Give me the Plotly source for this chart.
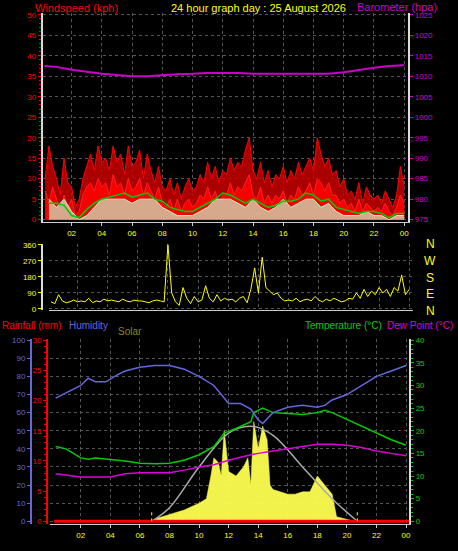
import numpy as np
import plotly.graph_objects as go

# quarter-hour and half-hour time bases (hours after midnight)
t_q = np.arange(1, 97) * 0.25
t_h = np.arange(1, 49) * 0.5

wind_gust = [10, 18, 13, 10, 6, 15, 9, 8, 3, 5, 10, 13, 16, 12, 18, 14,
             15, 12, 18, 14, 16, 11, 18, 13, 14, 17, 10, 16, 12, 9, 13, 8,
             7, 10, 6, 9, 5, 8, 10, 7, 8, 11, 9, 14, 10, 13, 9, 12,
             11, 15, 12, 14, 13, 17, 20, 12, 10, 14, 9, 12, 8, 11, 10, 13,
             9, 12, 10, 14, 11, 13, 15, 12, 20, 16, 13, 15, 11, 12, 8, 10,
             6, 7, 5, 9, 4, 8, 6, 5, 6, 4, 7, 5, 3, 6, 13, 8]
wind_low = [7, 4, 8, 5, 2, 6, 3, 5, 1, 2, 6, 8, 9, 7, 10, 8,
            9, 6, 11, 8, 9, 6, 10, 7, 8, 10, 6, 9, 7, 5, 8, 4,
            3, 5, 2, 5, 2, 4, 5, 3, 4, 6, 5, 8, 5, 7, 4, 6,
            6, 9, 6, 8, 7, 9, 11, 6, 5, 8, 4, 6, 4, 6, 5, 7,
            4, 6, 5, 8, 6, 7, 9, 6, 10, 9, 7, 9, 6, 6, 4, 5,
            3, 4, 2, 5, 2, 4, 3, 2, 3, 2, 4, 2, 1, 3, 6, 4]
wind_speed = [5, 3, 5, 2, 0, 1, 3, 5, 5, 5, 5, 4, 5, 5, 5, 3, 2, 1, 1, 1, 2, 3, 5, 5,
              5, 4, 3, 5, 3, 2, 3, 5, 3, 4, 5, 5, 3, 4, 2, 1, 1, 1, 2, 1, 1, 0, 1, 1]
wind_avg = [4, 4, 3.5, 1, 0.5, 2.5, 4, 5, 5.5, 6, 6.5, 5.5, 6, 6.5, 5, 4.5, 3, 2.5, 2, 2, 3, 4, 5, 6.5,
            6, 5, 4, 5, 4, 3, 3.5, 4.5, 4.5, 5, 6.5, 6, 4.5, 5, 3, 2.5, 2, 1.5, 2, 2, 1.5, 0.5, 1.5, 1.5]

baro_t = [0.2, 1, 2, 3, 4, 5, 6, 7, 8, 9, 10, 11, 12, 13, 14, 15, 16, 17, 18, 19, 20, 21, 22, 23, 24]
baro = [1012.5, 1012.3, 1011.6, 1011.1, 1010.6, 1010.3, 1010.0, 1010.0, 1010.3, 1010.5, 1010.6, 1010.8,
        1010.8, 1010.8, 1010.6, 1010.6, 1010.5, 1010.5, 1010.5, 1010.6, 1011.0, 1011.6, 1012.1, 1012.5, 1012.7]

wind_dir = [40, 30, 80, 45, 35, 40, 50, 40, 45, 40, 60, 35, 45, 40, 55, 45,
            50, 45, 40, 55, 45, 40, 50, 45, 45, 40, 35, 45, 50, 45, 40, 360,
            90, 40, 20, 120, 60, 30, 70, 40, 50, 130, 60, 40, 80, 45, 60, 50,
            55, 40, 60, 70, 35, 110, 230, 90, 290, 120, 100, 80, 90, 60, 45, 50,
            45, 60, 40, 50, 55, 45, 70, 50, 40, 55, 45, 60, 50, 40, 45, 60,
            55, 90, 60, 110, 70, 100, 80, 120, 90, 110, 70, 120, 100, 190, 80, 110]

hum_t = [0.3, 1, 2, 2.5, 3, 3.7, 4.5, 5, 6, 7, 8, 9, 10, 11, 12, 12.8, 13.5, 14, 14.3, 15,
         16, 17, 18, 18.5, 19, 20, 21, 22, 23, 24]
humidity = [68, 71, 75, 79, 77, 77, 81, 83, 85, 86, 86, 84, 80, 75, 65, 65, 62, 56, 54, 60,
            63, 64, 63, 64, 67, 70, 75, 80, 83, 86]

temp_t = [0.3, 1, 2, 2.5, 3, 4, 5, 6, 7, 8, 9, 10, 11, 11.7, 12.5, 13.5, 13.7, 14.3, 15, 16,
          17, 18, 18.5, 19, 20, 21, 22, 23, 24]
temperature = [16.5, 16, 14, 13.7, 14, 13.7, 13.3, 12.8, 12.7, 12.8, 13.5, 14.7, 16.5, 19.5, 20.5,
               22, 24, 25, 24, 23.8, 23.6, 24, 24.5, 24, 22.5, 21, 19.5, 18, 16.8]

dew_t = [0.3, 2, 3, 4, 5, 6, 7, 8, 9, 10, 11, 12, 13, 14, 15, 16, 17, 18, 19, 20, 21, 22, 23, 24]
dew_point = [10.5, 9.8, 9.8, 9.8, 10.5, 10.7, 10.7, 10.7, 11.3, 12, 12.5, 13.5, 14.3, 15, 15.5,
             16, 16.5, 17, 17, 16.8, 16.3, 15.5, 15, 14.5]

solar_t = [6.8, 7, 8, 9, 10, 10.5, 10.8, 11, 11.3, 11.5, 11.7, 12, 12.5, 13, 13.3, 13.5, 13.7,
           14, 14.3, 14.6, 14.8, 15, 16, 16.5, 17, 17.5, 18, 18.5, 19, 19.3, 20, 20.5]
solar = [0, 0.5, 1.5, 2.5, 4, 5, 10, 14, 13, 10, 20, 11, 10, 12, 14, 8, 22, 16, 21, 18, 8, 7,
         6, 6, 6.5, 6.5, 10, 8, 6, 1, 0.5, 0]
solar_max_t = [6.8, 8, 10, 12, 13.5, 15, 17, 19, 20.7]
solar_max = [0, 3, 12, 19.5, 21, 19, 12, 5, 0]

rain_t = [0.2, 24.2]
rainfall = [0, 0]

hour_ticks = list(range(2, 25, 2))
hour_labels = ["02", "04", "06", "08", "10", "12", "14", "16", "18", "20", "22", "00"]

F = "Liberation Sans"
GRID = "#555555"

fig = go.Figure()

# top panel: wind + barometer
fig.add_trace(go.Scatter(x=t_q, y=wind_gust, mode="lines", line=dict(color="#ff0000", width=1),
                         fill="tozeroy", fillcolor="rgba(200,0,0,0.85)", xaxis="x", yaxis="y"))
fig.add_trace(go.Scatter(x=t_q, y=wind_low, mode="lines", line=dict(color="#ff2020", width=1),
                         fill="tozeroy", fillcolor="rgba(255,0,0,0.9)", xaxis="x", yaxis="y"))
fig.add_trace(go.Scatter(x=t_h, y=wind_speed, mode="lines", line=dict(color="#c8f0c8", width=1),
                         fill="tozeroy", fillcolor="rgba(200,240,200,0.7)", xaxis="x", yaxis="y"))
fig.add_trace(go.Scatter(x=t_h, y=wind_avg, mode="lines", line=dict(color="#00cc00", width=1.5),
                         xaxis="x", yaxis="y"))
fig.add_trace(go.Scatter(x=baro_t, y=baro, mode="lines", line=dict(color="#cc00cc", width=2),
                         xaxis="x", yaxis="y2"))

# middle panel: wind direction
fig.add_trace(go.Scatter(x=t_q, y=wind_dir, mode="lines", line=dict(color="#ffff00", width=1),
                         xaxis="x2", yaxis="y3"))

# bottom panel
fig.add_trace(go.Scatter(x=solar_t, y=solar, mode="lines", line=dict(color="#ffff40", width=0.5),
                         fill="tozeroy", fillcolor="rgba(255,255,80,0.95)", xaxis="x3", yaxis="y4"))
fig.add_trace(go.Scatter(x=solar_max_t, y=solar_max, mode="lines", line=dict(color="#aaaaaa", width=1.5, shape="spline"),
                         xaxis="x3", yaxis="y4"))
fig.add_trace(go.Scatter(x=temp_t, y=temperature, mode="lines", line=dict(color="#00cc00", width=1.5),
                         xaxis="x3", yaxis="y4"))
fig.add_trace(go.Scatter(x=dew_t, y=dew_point, mode="lines", line=dict(color="#dd00dd", width=1.5),
                         xaxis="x3", yaxis="y4"))
fig.add_trace(go.Scatter(x=hum_t, y=humidity, mode="lines", line=dict(color="#6666dd", width=1.5),
                         xaxis="x3", yaxis="y6"))
fig.add_trace(go.Scatter(x=rain_t, y=rainfall, mode="lines", line=dict(color="#ff0000", width=3),
                         xaxis="x3", yaxis="y5"))

# sunrise / sunset markers
for sx in [6.8, 20.7]:
    fig.add_shape(type="line", x0=sx, x1=sx, y0=0, y1=2, xref="x3", yref="y4",
                  line=dict(color="#ffff00", width=1, dash="dot"))

xa = dict(range=[0.1, 24.26], tickvals=hour_ticks, ticktext=hour_labels, showgrid=True, gridcolor=GRID,
          griddash="dot", tickfont=dict(color="#ffff00", size=8, family=F), zeroline=False,
          showline=True, linecolor="#cccccc", ticks="outside", ticklen=3, tickcolor="#cccccc")

def ya(**kw):
    d = dict(showgrid=False, zeroline=False, ticks="outside", ticklen=3, tickfont=dict(size=8, family=F),
             showline=True, linewidth=2)
    d.update(kw)
    return d

fig.update_layout(
    width=458, height=551, margin=dict(l=0, r=0, t=0, b=0),
    paper_bgcolor="black", plot_bgcolor="black", showlegend=False,
    xaxis=dict(xa, domain=[0.094, 0.895], anchor="y"),
    yaxis=ya(domain=[0.598, 0.982], range=[-0.6, 50.5], dtick=5, tickcolor="#ff0000",
             tickfont=dict(color="#ff0000", size=8, family=F), linecolor="#dddddd",
             showgrid=True, gridcolor=GRID, griddash="dot", minor=dict(ticks="outside", ticklen=2, dtick=1, tickcolor="#ff0000")),
    yaxis2=ya(range=[974.4, 1025.5], dtick=5, overlaying="y", side="right", anchor="x",
              tickcolor="#cc00cc", tickfont=dict(color="#cc00cc", size=8, family=F), linecolor="#dddddd"),
    xaxis2=dict(xa, domain=[0.107, 0.906], anchor="y3", showticklabels=False, ticks=""),
    yaxis3=ya(domain=[0.436, 0.558], range=[-8, 365], tickvals=[0, 90, 180, 270, 360], tickcolor="#ffff00",
              tickfont=dict(color="#ffff00", size=8, family=F), linecolor="#dddddd",
              showgrid=True, gridcolor=GRID, griddash="dot"),
    xaxis3=dict(xa, domain=[0.109, 0.897], anchor="y4", range=[-0.1, 24.2]),
    yaxis4=ya(domain=[0.044, 0.383], range=[-0.6, 40.2], dtick=5, side="right", anchor="x3",
              tickcolor="#00cc00", tickfont=dict(color="#00cc00", size=8, family=F), linecolor="#dddddd",
              minor=dict(ticks="outside", ticklen=2, dtick=1, tickcolor="#00cc00")),
    yaxis5=ya(range=[-0.45, 30.15], dtick=5, overlaying="y4", anchor="free", position=0.103,
              tickcolor="#ff0000", tickfont=dict(color="#ff0000", size=8, family=F), linecolor="#ff0000",
              minor=dict(ticks="outside", ticklen=2, dtick=1, tickcolor="#ff0000")),
    yaxis6=ya(range=[-1.5, 100.5], dtick=10, overlaying="y4", anchor="free", position=0.068,
              tickcolor="#6666dd", tickfont=dict(color="#6666dd", size=8, family=F), linecolor="#6666dd",
              showgrid=True, gridcolor=GRID, griddash="dot"),
)

def note(text, x, y, color, size=11, xanchor="left"):
    fig.add_annotation(text=text, x=x, y=y, xref="paper", yref="paper", showarrow=False,
                       xanchor=xanchor, yanchor="middle", font=dict(color=color, size=size, family=F))

note("Windspeed (kph)", 0.072, 0.991, "#ff0000")
note("24 hour graph day : 25 August 2026", 0.37, 0.991, "#ffff00")
note("Barometer (hpa)", 0.962, 0.993, "#cc00cc", xanchor="right")
for i, d in enumerate(["N", "W", "S", "E", "N"]):
    note(d, 0.943, 0.557 - i * 0.0305, "#ffff00", size=12, xanchor="center")
note("Rainfall (mm)", 0.0, 0.409, "#ff0000", size=10)
note("Humidity", 0.147, 0.409, "#6666dd", size=10)
note("Solar", 0.255, 0.397, "#888820", size=10)
note("Temperature (°C)", 0.842, 0.409, "#00cc00", size=10, xanchor="right")
note("Dew Point (°C)", 0.998, 0.409, "#dd00dd", size=10, xanchor="right")

# drop the page's default body margin so the figure sits flush in the window
fig.write_html("out.html", config={"displayModeBar": False},
               post_script="document.body.style.margin='0';document.body.style.overflow='hidden';")
